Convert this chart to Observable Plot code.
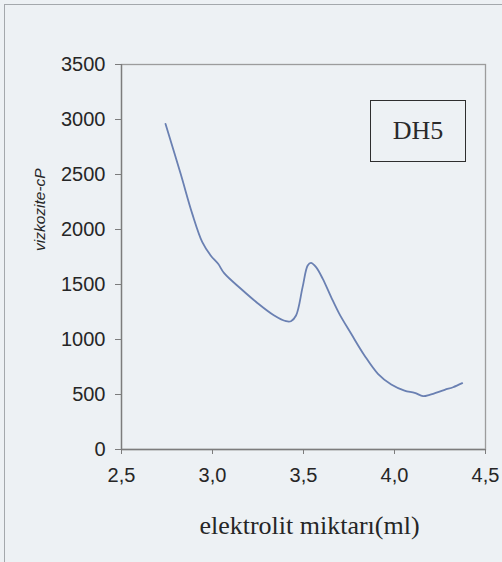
<!DOCTYPE html>
<html>
<head>
<meta charset="utf-8">
<script src="https://cdn.jsdelivr.net/npm/d3@7"></script>
<script src="https://cdn.jsdelivr.net/npm/@observablehq/plot@0.6"></script>
<style>
  html, body { margin: 0; padding: 0; background: #edf1f4; }
  #chart { position: relative; width: 502px; height: 562px; overflow: hidden; }
  #edge { position: absolute; left: 4px; top: 4px; right: -2px; bottom: -2px;
          border-left: 1px solid #a4a8ac; border-top: 1px solid #a4a8ac; pointer-events: none; }
  #tag { position: absolute; left: 370px; top: 100px; width: 94px; height: 60px;
         border: 1.6px solid #2e2e2e; font-family: "Liberation Serif", "Times New Roman", serif;
         font-size: 26px; color: #2a2a2a; display: flex; align-items: center; justify-content: center; }
  svg text { fill: #262626; }
</style>
</head>
<body>
<div id="chart"><div id="edge"></div><div id="tag">DH5</div></div>
<script>
// Viscosity (cP) of DH5 versus amount of electrolyte added (ml)
const electrolyte = [2.742, 2.825, 2.889, 2.944, 2.990, 3.031, 3.064, 3.156, 3.248, 3.339, 3.404, 3.431,
  3.459, 3.495, 3.523, 3.541, 3.569, 3.606, 3.652, 3.697, 3.762, 3.835, 3.909, 3.982, 4.055, 4.111,
  4.157, 4.193, 4.276, 4.322, 4.372];
const viscosity = [2960, 2506, 2142, 1885, 1764, 1688, 1603, 1461, 1330, 1218, 1166, 1166,
  1218, 1476, 1673, 1697, 1658, 1551, 1385, 1233, 1052, 855, 688, 591, 536, 515,
  485, 497, 543, 566, 603];
const xTicks = [2.5, 3.0, 3.5, 4.0, 4.5];
const yTicks = [0, 500, 1000, 1500, 2000, 2500, 3000, 3500];
const xTitle = "elektrolit miktarı(ml)";
const yTitle = "vizkozite-cP";

const rows = electrolyte.map((x, i) => ({x, y: viscosity[i]}));
const xDomain = [xTicks[0], xTicks[xTicks.length - 1]];
const yDomain = [yTicks[0], yTicks[yTicks.length - 1]];
const comma = d => d.toFixed(1).replace(".", ",");
const plain = d3.format("d");

const chart = Plot.plot({
  width: 502,
  height: 562,
  marginLeft: 121,
  marginRight: 17,
  marginTop: 64,
  marginBottom: 113,
  style: {background: "transparent", fontFamily: "Liberation Sans, Arial, sans-serif"},
  x: {domain: xDomain, ticks: xTicks, tickFormat: comma},
  y: {domain: yDomain, ticks: yTicks, tickFormat: plain},
  marks: [
    Plot.frame({stroke: "#9c9c9c", strokeWidth: 1.3}),
    Plot.ruleX([xDomain[0]], {stroke: "#7c7c7c", strokeWidth: 1.3}),
    Plot.ruleY([yDomain[0]], {stroke: "#7c7c7c", strokeWidth: 1.3}),
    Plot.axisX({ticks: xTicks, tickFormat: comma, tickSize: 5, tickPadding: 13, fontSize: 20,
      stroke: "#7c7c7c", label: null, style: {letterSpacing: "1.5px"}}),
    Plot.axisY({ticks: yTicks, tickFormat: plain, tickSize: 6, tickPadding: 10, fontSize: 20,
      stroke: "#7c7c7c", label: null, style: {letterSpacing: "1px"}}),
    Plot.line(rows, {x: "x", y: "y", curve: "catmull-rom", stroke: "#6a80b2", strokeWidth: 1.8}),
    Plot.text([xTitle], {frameAnchor: "bottom", text: d => d, dx: 6, dy: 76, lineAnchor: "middle",
      fontFamily: "Liberation Serif, Times New Roman, serif", fontSize: 26, style: {letterSpacing: "0.4px"}}),
    Plot.text([yTitle], {frameAnchor: "left", text: d => d, rotate: -90, dx: -81, dy: -6,
      lineAnchor: "middle", fontStyle: "italic", fontSize: 15.5})
  ]
});
document.getElementById("chart").prepend(chart);
</script>
</body>
</html>
